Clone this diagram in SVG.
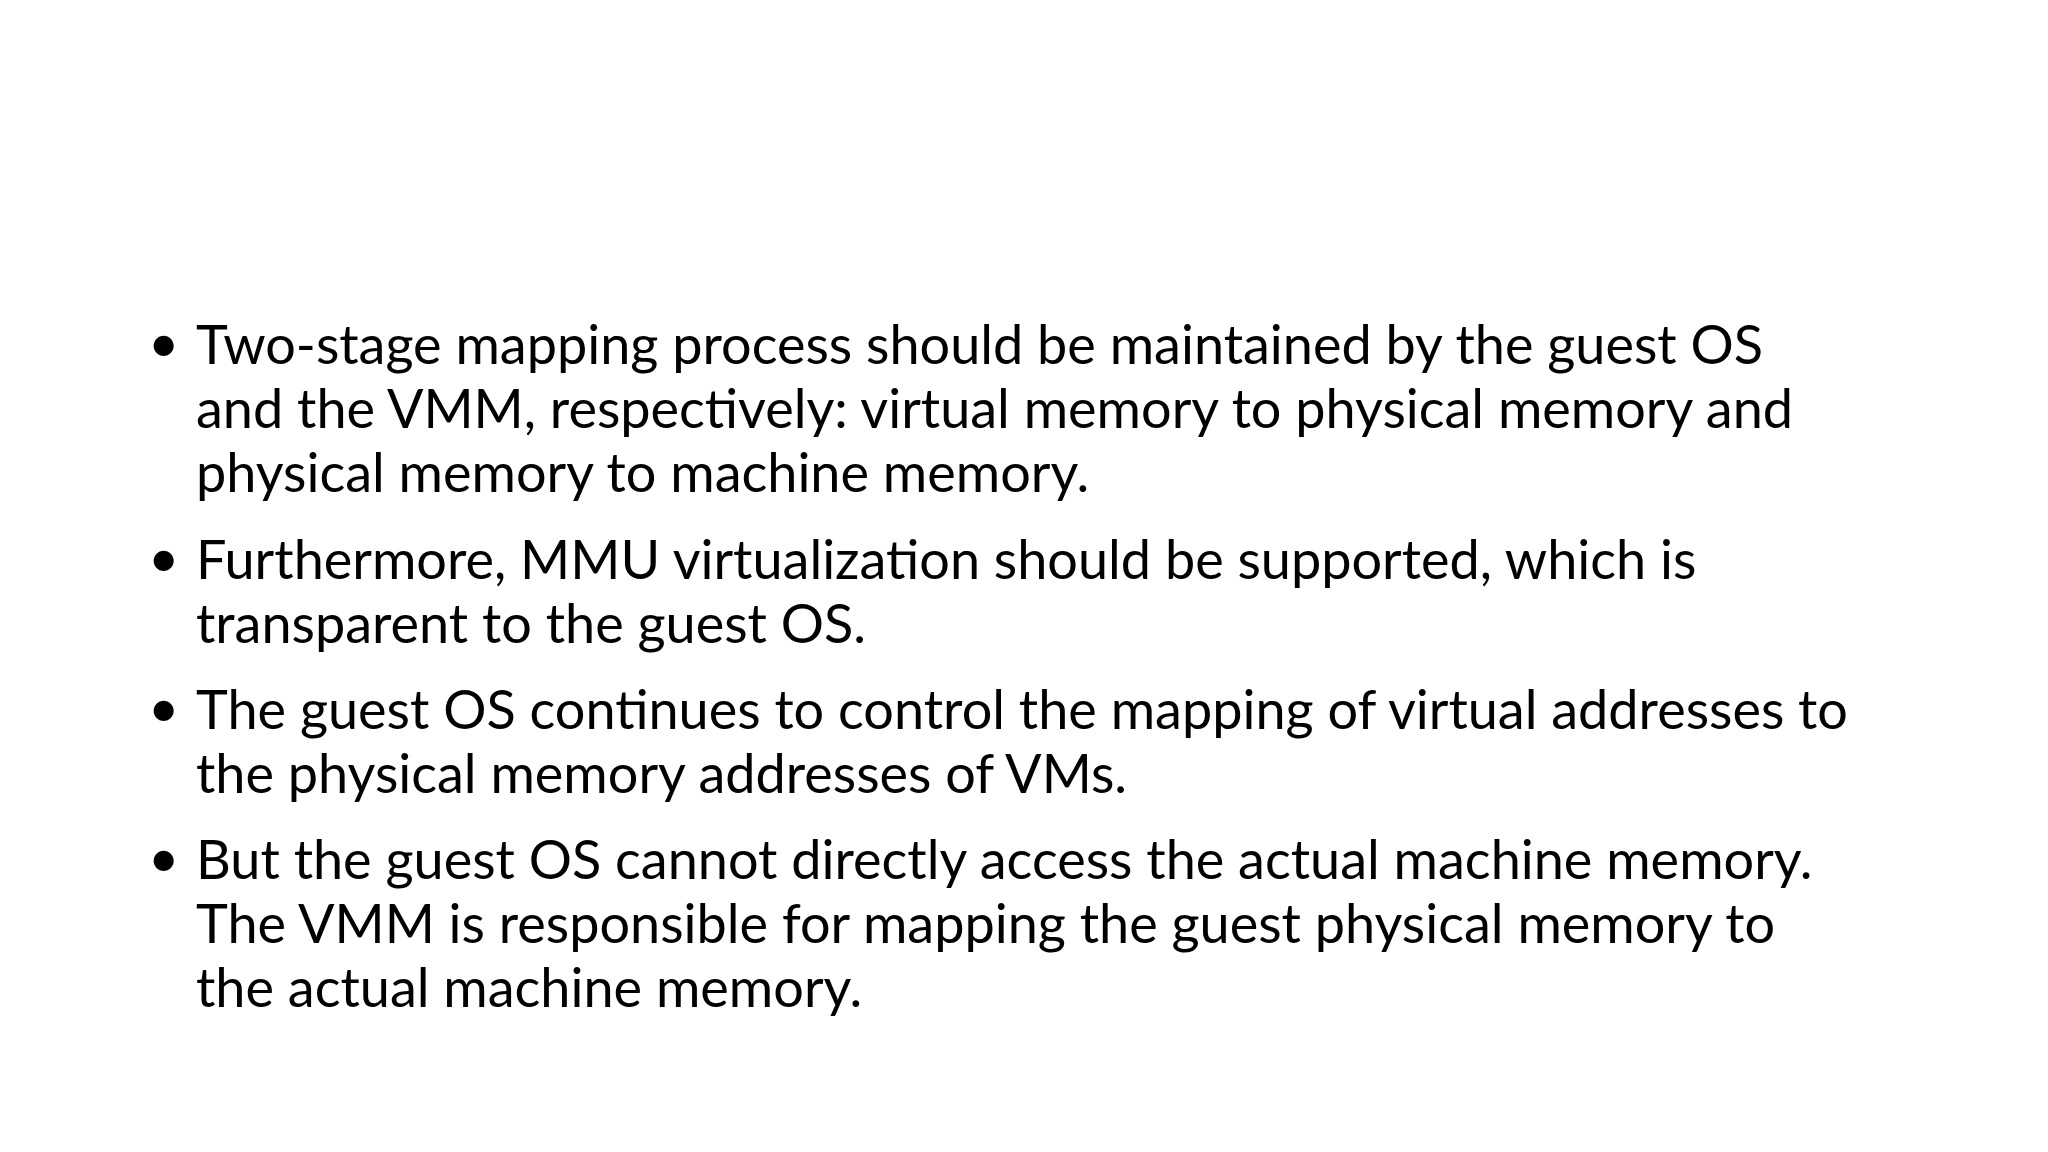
<svg xmlns="http://www.w3.org/2000/svg" width="2048" height="1152" viewBox="0 0 2048 1152">
<style>
text{font-family:Lato,"Open Sans",sans-serif;font-size:54px;fill:#000}
</style>
<rect width="2048" height="1152" fill="#fff"/>
<g id="bullets">
<text x="148" y="362">•</text>
<text x="148" y="577">•</text>
<text x="148" y="727">•</text>
<text x="148" y="877">•</text>
</g>
<g id="p1">
<text x="196" y="364">Two-stage mapping process should be maintained by the guest OS</text>
<text x="196" y="428">and the VMM, respectively: virtual memory to physical memory and</text>
<text x="196" y="492">physical memory to machine memory.</text>
</g>
<g id="p2">
<text x="196" y="579">Furthermore, MMU virtualization should be supported, which is</text>
<text x="196" y="643">transparent to the guest OS.</text>
</g>
<g id="p3">
<text x="196" y="729">The guest OS continues to control the mapping of virtual addresses to</text>
<text x="196" y="793">the physical memory addresses of VMs.</text>
</g>
<g id="p4">
<text x="196" y="879">But the guest OS cannot directly access the actual machine memory.</text>
<text x="196" y="943">The VMM is responsible for mapping the guest physical memory to</text>
<text x="196" y="1007">the actual machine memory.</text>
</g>
</svg>
